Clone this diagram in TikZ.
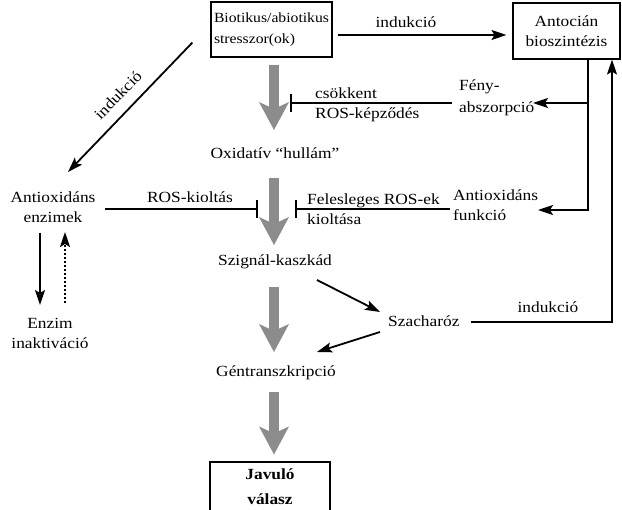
\documentclass[tikz,border=0pt]{standalone}
\usepackage{fontspec}
\setmainfont{Liberation Serif}[FakeStretch=1.12]
\usetikzlibrary{arrows.meta}
\definecolor{garrgray}{RGB}{140,140,140}
\begin{document}
\begin{tikzpicture}[x=1pt,y=-1pt,
  every node/.style={font=\fontsize{15.5}{20}\selectfont, inner sep=0pt},
  txt/.style={align=center},
  ltxt/.style={align=left, anchor=west},
  box/.style={draw, line width=1.1pt, inner sep=3pt},
  arr/.style={line width=1.8pt, -{Stealth[length=15pt,width=10pt,inset=3pt]}},
  inh/.style={line width=1.8pt, -{Bar[width=18pt]}},
  garr/.style={line width=10pt, draw=garrgray, -{Stealth[length=28pt,width=30pt,inset=7pt,line width=0pt]}},
  dotarr/.style={arr, dash pattern=on 2pt off 2pt}]
\useasboundingbox (0,0) rectangle (622,510);
\clip (0,0) rectangle (622,510);
% nodes
\node[box, minimum width=121pt, minimum height=55pt, align=left, font=\fontsize{14}{21}\selectfont] (stress) at (271.5,29.5) {Biotikus/abiotikus\\stresszor(ok)};
\node[box, minimum width=107pt, minimum height=56pt, align=center] (antoc) at (566.5,31) {Antocián\\bioszintézis};
\node (ind1) at (406,22) {indukció};
\node[ltxt, font=\fontsize{15.5}{22}\selectfont] (feny) at (459,98) {Fény-\\abszorpció};
\node[ltxt] (csokk) at (315,105) {csökkent\\ROS-képződés};
\node (ox) at (275,153) {Oxidatív “hullám”};
\node[txt] (antienz) at (53,207) {Antioxidáns\\enzimek};
\node (roskiol) at (190,197) {ROS-kioltás};
\node[ltxt] (fel) at (307,209) {Felesleges ROS-ek\\kioltása};
\node[ltxt] (antifunc) at (453,205) {Antioxidáns\\funkció};
\node (szig) at (275,262) {Szignál-kaszkád};
\node[txt] (enzim) at (50,333) {Enzim\\inaktiváció};
\node[ltxt] (szach) at (388,321) {Szacharóz};
\node (ind2) at (548,307) {indukció};
\node (gen) at (276,373) {Géntranszkripció};
\node[box, minimum width=120pt, minimum height=50pt, align=center, font=\bfseries\fontsize{15.5}{25}\selectfont] (jav) at (270,487) {Javuló\\válasz};
\node[rotate=46] (ind3) at (118,95) {indukció};
% coordinates for free ends
\coordinate (j1) at (588,103);
\coordinate (j2) at (612,322);
\coordinate (fenytip) at (533,103);
\coordinate (functip) at (538,210);
\coordinate (bar1) at (258,209);
\coordinate (bar2) at (295,209);
\coordinate (bar3) at (290,103);
% black arrows
\draw[arr] ([shift={(5,5.5)}]stress.east) -- ([shift={(-6,4)}]antoc.west);
\draw[arr] (antoc.south -| j1) |- (functip);
\draw[arr] (j1) -- (fenytip);
\draw[arr] ([shift={(11,1)}]szach.east) -| (antoc.south -| j2);
\draw[arr] ([shift={(-18,13)}]stress.west) -- ([shift={(15,-35)}]antienz.center);
\draw[arr] ([shift={(42,18)}]szig.center) -- ([shift={(-8,-9)}]szach.west);
\draw[arr] ([shift={(-8,11)}]szach.west) -- ([shift={(41,-21)}]gen.center);
\draw[arr] ([shift={(-13,26)}]antienz.center) -- ([shift={(-10,-28)}]enzim.center);
\draw[dotarr] ([shift={(15,-30)}]enzim.center) -- ([shift={(12,25)}]antienz.center);
% inhibition
\draw[inh] ([shift={(52,2)}]antienz.center) -- (bar1);
\draw[inh] ([shift={(-3,4)}]antifunc.west) -- (bar2);
\draw[inh] ([shift={(-7,5)}]feny.west) -- (bar3);
% gray main arrows
\draw[garr] ([shift={(2.5,7)}]stress.south) -- ([shift={(-1,-23)}]ox.center);
\draw[garr] ([shift={(-1,25)}]ox.center) -- ([shift={(-1,-17)}]szig.center);
\draw[garr] ([shift={(-1,25)}]szig.center) -- ([shift={(-2,-21)}]gen.center);
\draw[garr] ([shift={(-2,19)}]gen.center) -- ([shift={(4,-7)}]jav.north);
\end{tikzpicture}
\end{document}
